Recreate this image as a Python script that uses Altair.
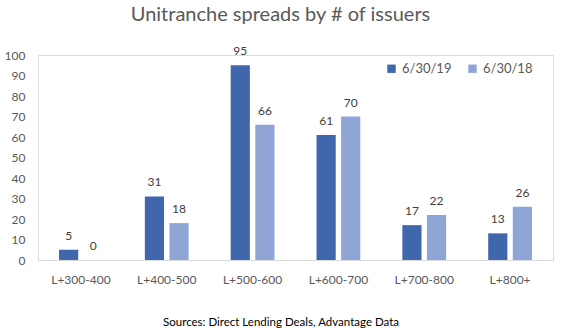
import altair as alt
import pandas as pd

categories = ["L+300-400", "L+400-500", "L+500-600", "L+600-700", "L+700-800", "L+800+"]
series_names = ["6/30/19", "6/30/18"]
values_2019 = [5, 31, 95, 61, 17, 13]
values_2018 = [0, 18, 66, 70, 22, 26]
colors = ["#4066AC", "#8FA5D6"]
source_text = ["Sources: Direct Lending Deals, Advantage Data"]
y_ticks = [0, 10, 20, 30, 40, 50, 60, 70, 80, 90, 100]

rows = []
for c, a, b in zip(categories, values_2019, values_2018):
    rows.append({"cat": c, "series": series_names[0], "value": a})
    rows.append({"cat": c, "series": series_names[1], "value": b})
df = pd.DataFrame(rows)

FONT = "Lato"

x = alt.X("cat:N", sort=categories, title=None,
          scale=alt.Scale(paddingInner=0.49, paddingOuter=0.245),
          axis=alt.Axis(labelAngle=0, ticks=False, domainColor="#D9D9D9",
                        labelColor="#595959", labelFontSize=12, labelPadding=14,
                        labelFont=FONT))
xo = alt.XOffset("series:N", sort=series_names, scale=alt.Scale(paddingInner=0.22))
y = alt.Y("value:Q", title=None,
          scale=alt.Scale(domain=[0, 100], nice=False),
          axis=alt.Axis(values=y_ticks, domain=False, ticks=False,
                        grid=False, labelColor="#595959", labelFontSize=12,
                        labelPadding=13, labelFont=FONT, labelOverlap=False,
                        tickCount=11))
color = alt.Color("series:N", sort=series_names, title=None,
                  scale=alt.Scale(domain=series_names, range=colors),
                  legend=alt.Legend(orient="none", legendX=347, legendY=7,
                                    direction="horizontal", symbolType="square",
                                    symbolSize=70, symbolStrokeWidth=0,
                                    labelFontSize=13, labelColor="#595959",
                                    labelFont=FONT, columnPadding=14))

base = alt.Chart(df)
bars = base.mark_bar().encode(x=x, xOffset=xo, y=y, color=color)
labels = base.mark_text(dy=-14, fontSize=12, color="#404040", font=FONT).encode(
    x=x, xOffset=xo, y=y, text="value:Q")
src = alt.Chart(pd.DataFrame({"t": source_text})).mark_text(
    fontSize=11.5, color="#000000", font=FONT).encode(
    x=alt.value(243), y=alt.value(268), text="t:N")

chart = alt.layer(bars, labels, src).properties(
    width=515, height=205,
    title=alt.TitleParams("Unitranche spreads by # of issuers", fontSize=20,
                          font=FONT, fontWeight="normal", color="#595959",
                          anchor="middle", dx=-15, offset=20),
    autosize=alt.AutoSizeParams(type="none"),
    padding={"left": 38, "top": 55, "right": 15, "bottom": 76},
).configure_view(stroke=None).configure(background="white")

chart.save("out.html", embed_options={"renderer": "svg", "actions": False})
